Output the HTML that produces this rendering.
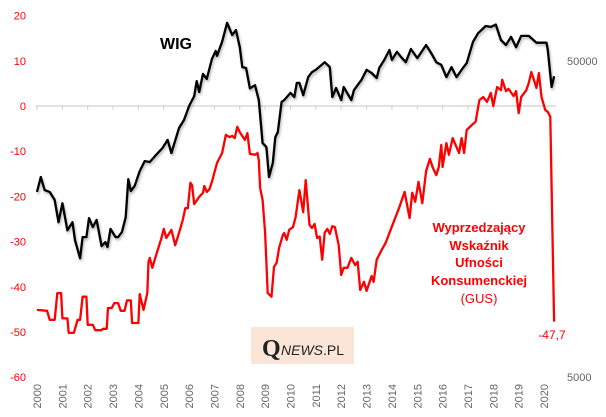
<!DOCTYPE html>
<html><head><meta charset="utf-8"><style>
html,body{margin:0;padding:0;background:#fff;}
svg{display:block;font-family:"Liberation Sans",sans-serif;}
</style></head><body>
<svg id="chart" width="606" height="417" viewBox="0 0 606 417">
<defs><filter id="sh" x="-5%" y="-5%" width="110%" height="110%"><feDropShadow dx="1" dy="2" stdDeviation="1.2" flood-color="#000" flood-opacity="0.3"/></filter></defs>
<g id="axes"></g>
<g id="series"></g>
<text x="176" y="49" font-size="16" font-weight="bold" text-anchor="middle" fill="#000">WIG</text>
<g font-size="13" font-weight="bold" fill="#ff0000" text-anchor="middle">
<text x="479" y="232">Wyprzedzający</text>
<text x="479" y="250">Wskaźnik</text>
<text x="479" y="267">Ufności</text>
<text x="479" y="285">Konsumenckiej</text>
<text x="479" y="303" font-weight="normal">(GUS)</text>
</g>
<text x="552" y="339" font-size="12" fill="#ff0000" text-anchor="middle">-47,7</text>
<g>
<rect x="251" y="327" width="103" height="37" fill="#fbe5d6"/>
<text x="262" y="356" font-family="Liberation Serif,serif" font-size="24" font-weight="bold" fill="#222">Q</text>
<text x="281" y="355" font-size="14" fill="#222"><tspan font-style="italic">NEWS</tspan>.PL</text>
</g>
</svg>
<script>
const yearLabels=[2000,2001,2002,2003,2004,2005,2006,2007,2008,2009,2010,2011,2012,2013,2014,2015,2016,2017,2018,2019,2020];
const leftTicks=[20,10,0,-10,-20,-30,-40,-50,-60];
const rightTicks=[50000,5000];
const wigDates=[2000.0,2000.15,2000.3,2000.5,2000.7,2000.85,2001.0,2001.2,2001.4,2001.5,2001.7,2001.8,2001.95,2002.05,2002.2,2002.35,2002.55,2002.7,2002.78,2002.9,2003.1,2003.2,2003.35,2003.5,2003.6,2003.7,2003.85,2004.05,2004.25,2004.45,2004.65,2004.95,2005.15,2005.3,2005.6,2005.8,2006.0,2006.2,2006.3,2006.4,2006.55,2006.7,2006.9,2007.05,2007.1,2007.3,2007.5,2007.7,2007.85,2008.0,2008.1,2008.25,2008.4,2008.6,2008.75,2008.9,2009.05,2009.15,2009.3,2009.4,2009.5,2009.65,2009.75,2010.0,2010.15,2010.25,2010.35,2010.5,2010.7,2010.85,2011.0,2011.35,2011.55,2011.65,2011.8,2012.0,2012.1,2012.4,2012.5,2012.8,2013.0,2013.2,2013.4,2013.5,2013.7,2013.9,2014.0,2014.2,2014.35,2014.55,2014.75,2015.0,2015.35,2015.55,2015.75,2015.95,2016.15,2016.35,2016.55,2016.8,2016.95,2017.2,2017.4,2017.7,2017.9,2018.1,2018.3,2018.5,2018.7,2018.9,2019.1,2019.4,2019.7,2020.1,2020.15,2020.3,2020.4];
const wigValues=[-19,-15.7,-18.6,-19,-20.8,-25.7,-21.5,-27.5,-25.7,-29.7,-33.7,-29,-29,-24.8,-26.8,-25.2,-31,-30.1,-31.2,-27.2,-29,-29,-27.9,-24.6,-16.2,-18.8,-17.7,-14.4,-12.2,-12.4,-11.1,-9.3,-7.5,-10.4,-4.9,-3.1,0,2.2,5.5,3.1,7.1,6,10.4,12.2,11.1,14.2,18.4,15.7,16.8,13,8.6,8.4,3.9,4.6,1.3,-8.2,-9.1,-15.7,-12.6,-6.9,-5.8,0.9,1.3,2.9,2,5.1,5.1,2.4,6.4,7.5,8,9.7,8.6,2,4,1.3,4.2,1.3,3.5,5.8,8,7.3,6.2,8.4,10.2,12.4,10.2,12,10.9,9.7,12.6,10.6,13.5,11.7,9.7,9.1,6.4,8.6,6.4,8.4,9.5,14.2,16.1,17.7,17.5,18,14.6,13.5,15.3,13,15.5,15.5,14,14,12.4,4.2,6.6];
const ucDates=[2000.0,2000.4,2000.5,2000.7,2000.8,2000.95,2001.0,2001.2,2001.25,2001.45,2001.6,2001.7,2001.8,2001.95,2002.0,2002.2,2002.3,2002.55,2002.6,2002.75,2002.8,2002.95,2003.05,2003.2,2003.3,2003.45,2003.55,2003.7,2003.75,2004.0,2004.05,2004.2,2004.35,2004.4,2004.45,2004.55,2004.7,2004.9,2005.0,2005.1,2005.3,2005.45,2005.6,2005.75,2005.85,2005.95,2006.05,2006.12,2006.2,2006.4,2006.55,2006.6,2006.7,2006.8,2006.9,2007.1,2007.3,2007.45,2007.6,2007.7,2007.8,2007.9,2008.0,2008.2,2008.3,2008.4,2008.6,2008.7,2008.75,2008.8,2008.9,2009.0,2009.1,2009.25,2009.35,2009.45,2009.55,2009.7,2009.75,2009.85,2009.95,2010.1,2010.2,2010.35,2010.5,2010.6,2010.75,2010.85,2010.95,2011.05,2011.15,2011.25,2011.35,2011.45,2011.55,2011.65,2011.75,2011.9,2012.0,2012.1,2012.25,2012.4,2012.55,2012.65,2012.75,2012.9,2013.0,2013.2,2013.28,2013.4,2013.6,2013.75,2013.95,2014.15,2014.3,2014.5,2014.7,2014.8,2014.92,2015.05,2015.2,2015.35,2015.5,2015.6,2015.75,2015.85,2015.95,2016.0,2016.15,2016.25,2016.4,2016.55,2016.65,2016.75,2016.85,2016.95,2017.15,2017.3,2017.45,2017.6,2017.75,2017.9,2018.0,2018.15,2018.3,2018.35,2018.5,2018.6,2018.8,2018.9,2019.0,2019.1,2019.3,2019.4,2019.5,2019.6,2019.7,2019.8,2019.9,2020.05,2020.15,2020.25,2020.4];
const ucValues=[-45.1,-45.3,-47.3,-47.3,-41.4,-41.4,-47,-47,-50.2,-50.2,-47.3,-47.3,-42.2,-42.2,-48.4,-48.4,-49.6,-49.6,-49.3,-49.3,-44.7,-44.7,-43.6,-43.6,-45.3,-45.3,-43,-43,-48,-48,-41.6,-45.1,-41.4,-34.5,-33.6,-35.8,-33,-29.4,-27.2,-29.2,-27.4,-30.8,-28.1,-25.2,-22.6,-22.6,-17,-17.5,-21.7,-20.1,-19.2,-17.7,-19,-18.4,-16.8,-12.6,-10.4,-6.4,-6.9,-6.6,-7.1,-4.6,-5.8,-7.5,-6,-10.6,-10.8,-10.4,-12,-18.1,-20.8,-28,-41.4,-42.2,-35.6,-34.7,-31.4,-28.5,-28.1,-29.6,-27.4,-26.8,-24.6,-18.6,-23.5,-16.4,-26.3,-27,-26.1,-29.2,-28.9,-34,-28,-27.2,-28.3,-26.6,-26.8,-30.8,-37.4,-35.8,-35.8,-33.6,-35.2,-34.5,-40.7,-38.9,-40.9,-37.6,-38.9,-34,-31.8,-30.3,-27.4,-24.5,-22.3,-19,-24.8,-19.2,-21.2,-16.8,-21.5,-14.4,-11.7,-13.5,-15.3,-13.5,-8.6,-13.5,-8.2,-10.8,-7.1,-9.1,-10.4,-7.1,-10.4,-5.3,-4.2,-3.5,1.3,2,0.9,2.9,0,4.2,3.5,5.8,3.3,3.8,2.2,3.3,-1.6,2,3.5,5.1,7.5,5.8,4,7.3,2,-0.9,-1.3,-2.4,-47.7];

const NS="http://www.w3.org/2000/svg";
const X0=37, XW=25.35, Y0=106, YK=4.52;
const xs=d=>X0+(d-2000)*XW;
const ys=v=>Y0-v*YK;
const yr=w=>61+316*(Math.log10(50000)-Math.log10(w));
const axes=document.getElementById('axes'), ser=document.getElementById('series');
function mk(tag,attrs,parent){const e=document.createElementNS(NS,tag);for(const k in attrs)e.setAttribute(k,attrs[k]);parent.appendChild(e);return e;}

const zl=mk('line',{x1:36,x2:556,y1:ys(0),y2:ys(0),stroke:'#d0d0d0','stroke-width':1.3},axes);


yearLabels.forEach(y=>{
  const t=mk('line',{x1:xs(y),x2:xs(y),y1:ys(0),y2:ys(0)+4,stroke:'#d0d0d0','stroke-width':1},axes);
  
  
  const tx=mk('text',{x:0,y:0,'font-size':11,fill:'#666','text-anchor':'end',transform:`translate(${xs(y)+4},384) rotate(-90)`},axes);
  tx.textContent=y;
  
  
});
leftTicks.forEach(v=>{
  const tx=mk('text',{x:26,y:ys(v)+4,'font-size':11,fill:'#ff0000','text-anchor':'end'},axes);
  tx.textContent=v;
  
  
});
rightTicks.forEach(w=>{
  const tx=mk('text',{x:567,y:yr(w)+4,'font-size':11,fill:'#666'},axes);
  tx.textContent=w;
  
  
});
function path(d,v){return d.map((t,i)=>(i?'L':'M')+xs(t).toFixed(1)+','+ys(v[i]).toFixed(1)).join('');}
const red=mk('path',{d:path(ucDates,ucValues),fill:'none',stroke:'#ff0000','stroke-width':2.3,'stroke-linejoin':'round'},ser);


const blk=mk('path',{d:path(wigDates,wigValues),fill:'none',stroke:'#000','stroke-width':2.3,'stroke-linejoin':'round',filter:'url(#sh)'},ser);


</script>
</body></html>
